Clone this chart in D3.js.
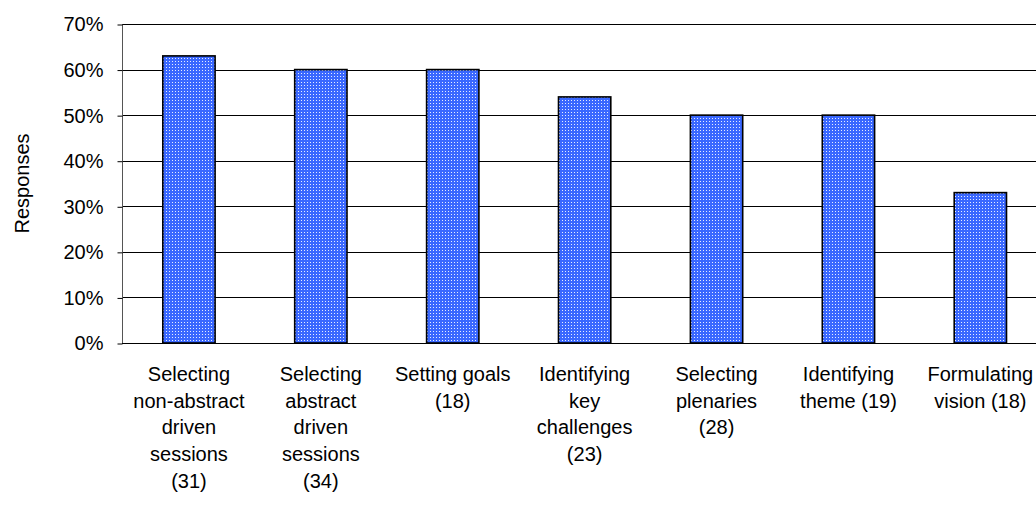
<!DOCTYPE html>
<html>
<head>
<meta charset="utf-8">
<script src="https://cdn.jsdelivr.net/npm/d3@7"></script>
<style>
  html, body { margin: 0; padding: 0; background: #fff; }
  svg { display: block; }
  text { font-family: "Liberation Sans", Arial, sans-serif; fill: #000; }
</style>
</head>
<body>
<svg id="chart" width="1036" height="506"></svg>
<script>
// Data
const categories = [
  ["Selecting", "non-abstract", "driven", "sessions", "(31)"],
  ["Selecting", "abstract", "driven", "sessions", "(34)"],
  ["Setting goals", "(18)"],
  ["Identifying", "key", "challenges", "(23)"],
  ["Selecting", "plenaries", "(28)"],
  ["Identifying", "theme (19)"],
  ["Formulating", "vision (18)"]
];
const values = [63, 60, 60, 54, 50, 50, 33];
const yTicks = [0, 10, 20, 30, 40, 50, 60, 70];
const yTitle = "Responses";

(function() {
const svg = d3.select("#chart");
const W = 1036, H = 506;
const axisX = 122, plotTop = 24, plotBottom = 343;
const step = 131.9;
const fs = 20;

const defs = svg.append("defs");
const pat = defs.append("pattern")
  .attr("id", "dots").attr("patternUnits", "userSpaceOnUse")
  .attr("width", 3).attr("height", 3);
pat.append("rect").attr("width", 3).attr("height", 3).attr("fill", "#3a68ff");
pat.append("rect").attr("x", 1).attr("y", 1).attr("width", 1).attr("height", 1).attr("fill", "#e6ecff");

const x = d3.scaleBand()
  .domain(d3.range(categories.length))
  .range([axisX + 1, axisX + 1 + step * categories.length])
  .paddingInner(0.6035)
  .paddingOuter(0.30175);

const y = d3.scaleLinear().domain([0, 70]).range([plotBottom, plotTop]);

// gridlines
svg.append("g").selectAll("line").data(yTicks.filter(d => d > 0)).join("line")
  .attr("x1", axisX).attr("x2", W)
  .attr("y1", d => Math.round(y(d)) + 0.5).attr("y2", d => Math.round(y(d)) + 0.5)
  .attr("stroke", "#000").attr("stroke-width", 1);

// y axis
const yAxis = d3.axisLeft(y).tickValues(yTicks).tickFormat(d => d + "%")
  .tickSize(5).tickPadding(14);
const gy = svg.append("g").attr("transform", `translate(${axisX + 0.5},0.5)`).call(yAxis);
gy.select(".domain").attr("stroke", "#555").attr("d", `M0,${plotTop}V${plotBottom}`);
gy.selectAll(".tick line").attr("stroke", "#000");
gy.selectAll(".tick text").attr("font-size", fs).attr("font-family", "Liberation Sans, Arial, sans-serif").attr("fill", "#000");

// bars
svg.append("g").selectAll("rect").data(values).join("rect")
  .attr("x", (d, i) => x(i))
  .attr("y", d => y(d))
  .attr("width", x.bandwidth())
  .attr("height", d => plotBottom - y(d))
  .attr("fill", "url(#dots)")
  .attr("stroke", "#000").attr("stroke-width", 1.6);

// x baseline
svg.append("line").attr("x1", axisX).attr("x2", W)
  .attr("y1", plotBottom + 0.5).attr("y2", plotBottom + 0.5)
  .attr("stroke", "#000").attr("stroke-width", 1.2);

// category labels
const lab = svg.append("g").selectAll("text").data(categories).join("text")
  .attr("text-anchor", "middle").attr("font-size", fs)
  .attr("x", (d, i) => x(i) + x.bandwidth() / 2)
  .attr("y", 381);
lab.selectAll("tspan").data(d => d).join("tspan")
  .attr("x", function() { return this.parentNode.getAttribute("x"); })
  .attr("dy", (d, i) => i === 0 ? 0 : 26.7)
  .text(d => d);

// y title
svg.append("text")
  .attr("transform", `translate(29,${(plotTop + plotBottom) / 2}) rotate(-90)`)
  .attr("text-anchor", "middle").attr("font-size", fs)
  .text(yTitle);
})();
</script>
</body>
</html>
